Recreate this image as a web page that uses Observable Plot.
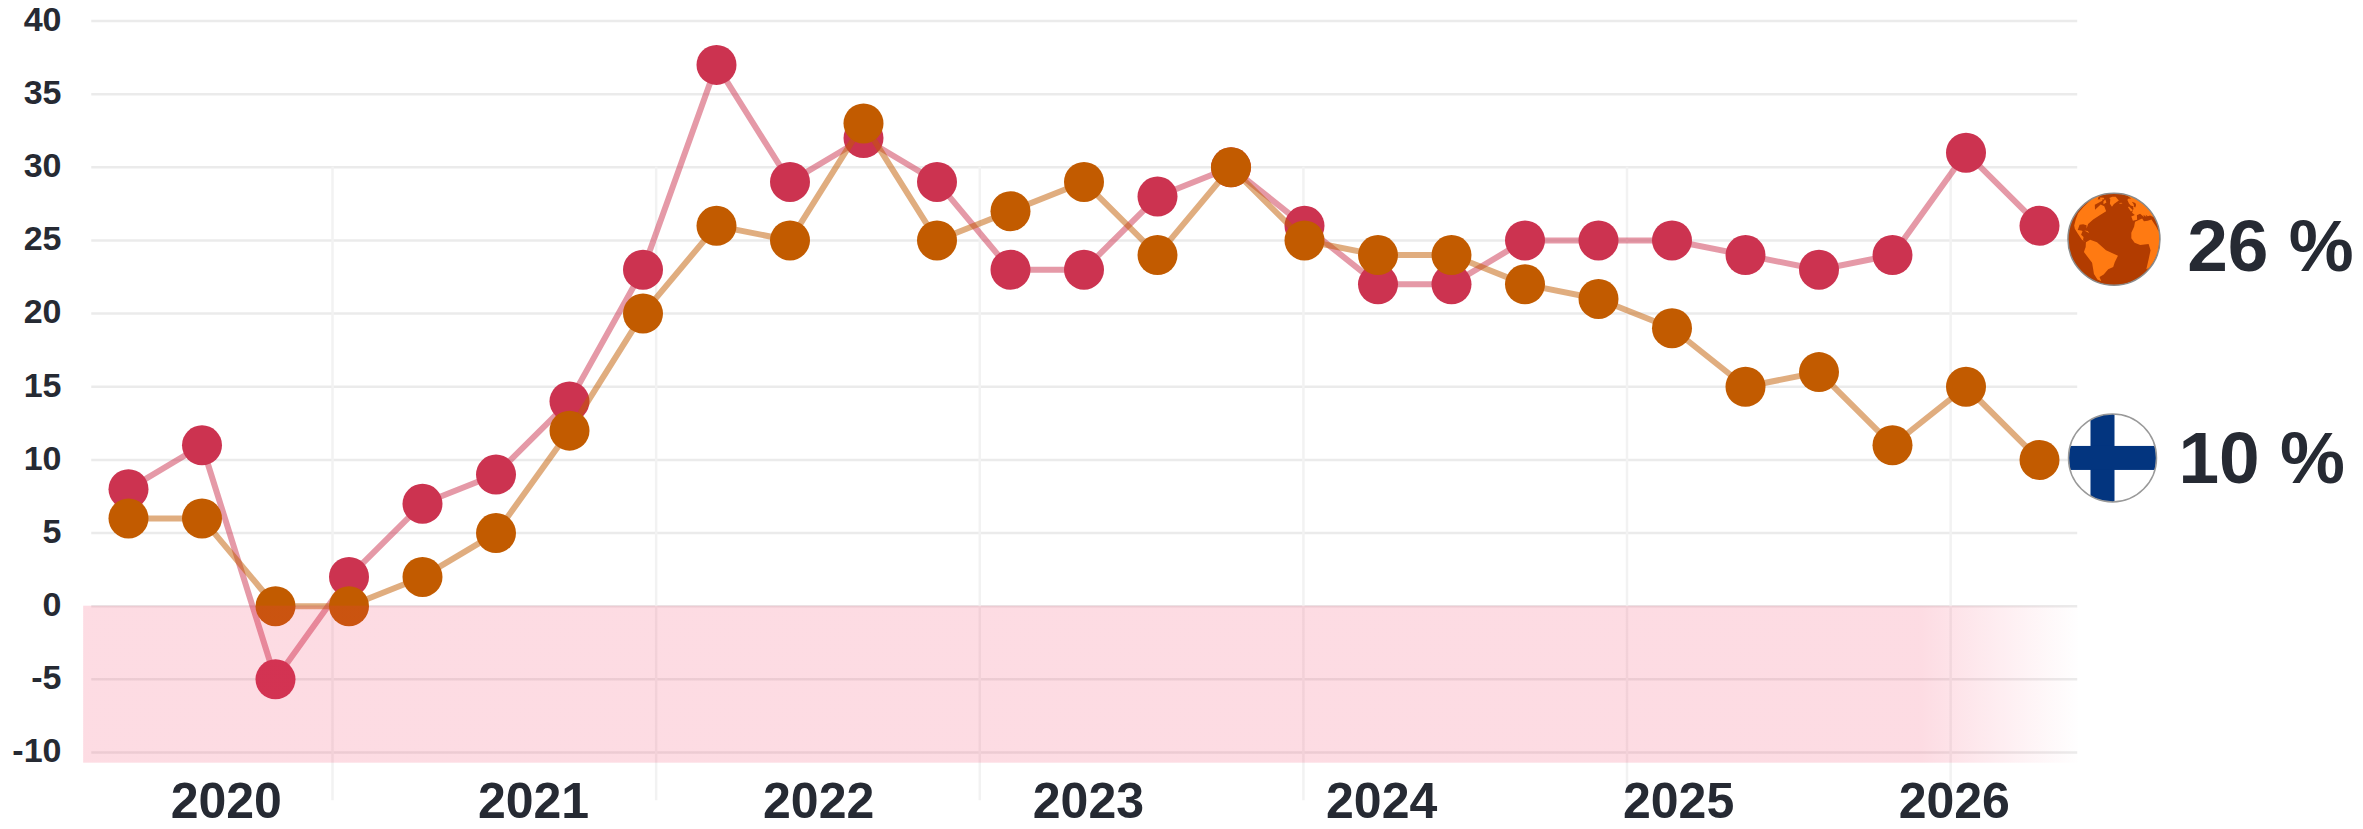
<!DOCTYPE html>
<html>
<head>
<meta charset="utf-8">
<script src="https://cdn.jsdelivr.net/npm/d3@7"></script>
<script src="https://cdn.jsdelivr.net/npm/@observablehq/plot@0.6"></script>
<style>html,body{margin:0;padding:0;background:#fff;overflow:hidden}svg{display:block}svg text{-webkit-text-stroke:0.6px #262a33}</style>
</head>
<body>
<div id="chart"></div>
<script>
// Data
const worldValues = [8,11,-5,2,7,9,14,23,37,29,32,29,23,23,28,30,26,22,22,25,25,25,24,23,24,31,26];
const finlandValues = [6,6,0,0,2,5,12,20,26,25,33,25,27,29,24,30,25,24,24,22,21,19,15,16,11,15,10];
const yTicks = [-10,-5,0,5,10,15,20,25,30,35,40];
const yearLabels = ["2020","2021","2022","2023","2024","2025","2026"];
const yearLabelIndex = [1.33,5.51,9.39,13.06,17.05,21.09,24.84];
const yearLines = [2.776,7.179,11.582,15.985,20.388,24.791];
const endLabels = ["26 %","10 %"];
const endLabelValues = [24.5,10.0];
const endLabelIndex = [28.01,27.89];
const iconIndex = [27.02,27.0];
const iconValues = [25.05,10.1];

const COLORS = {world:"#cc3350", finland:"#c25b00", text:"#262a33", grid:"#ebebeb", vgrid:"#f2f2f2"};

// Rough continent outlines (lon, lat) for the globe icon
const land = [
 [[-168,65],[-156,71],[-130,70],[-110,68],[-95,72],[-85,69],[-94,59],[-82,52],[-78,62],[-65,60],[-56,52],[-66,45],[-75,38],[-81,31],[-81,25],[-83,29],[-90,29],[-97,27],[-97,20],[-90,21],[-87,21],[-88,16],[-83,14],[-83,9],[-78,8],[-85,10],[-95,16],[-105,20],[-110,23],[-115,31],[-122,38],[-124,48],[-135,58],[-150,60],[-165,55],[-160,60]],
 [[-70,78],[-55,82],[-25,82],[-20,72],[-40,65],[-45,60],[-52,65],[-58,75]],
 [[-80,73],[-65,67],[-70,63],[-78,68]],
 [[-120,72],[-100,75],[-85,73],[-100,70]],
 [[-78,8],[-72,12],[-62,10],[-50,1],[-35,-6],[-39,-15],[-41,-22],[-48,-26],[-56,-36],[-65,-42],[-68,-54],[-74,-50],[-73,-37],[-70,-18],[-81,-5],[-78,2]],
 [[-6,35],[10,37],[11,33],[20,32],[32,31],[37,20],[43,12],[51,12],[40,-3],[40,-15],[33,-25],[27,-34],[18,-34],[12,-17],[13,-5],[9,4],[-5,5],[-13,9],[-17,15],[-16,22],[-10,29]],
 [[-9,37],[-9,43],[-1,44],[-4,48],[5,53],[9,57],[12,54],[22,57],[28,60],[22,64],[18,60],[12,56],[5,59],[6,63],[15,69],[28,71],[45,68],[70,72],[110,76],[140,72],[140,50],[120,30],[105,15],[90,22],[78,8],[70,22],[58,25],[48,30],[36,36],[27,37],[24,40],[22,37],[18,41],[16,38],[12,44],[3,43],[-1,37]],
 [[-5,50],[1,51],[-2,58],[-6,57]],
 [[-24,65],[-14,65],[-16,66.5],[-22,66.5]],
 [[-84,22],[-75,20],[-78,22.5]],
 [[44,-16],[50,-15],[47,-25],[44,-24]]
];

const indices = worldValues.map((_, i) => i);
const world = indices.map(i => ({i, v: worldValues[i]}));
const finland = indices.map(i => ({i, v: finlandValues[i]}));

function polygon(ring) {
  let g = {type:"Polygon", coordinates:[[...ring, ring[0]]]};
  if (d3.geoArea(g) > 2 * Math.PI) g = {type:"Polygon", coordinates:[[...ring, ring[0]].reverse()]};
  return g;
}

const defsMark = () => {
  const svg = d3.create("svg:g");
  const grad = svg.append("linearGradient").attr("id","fade");
  [[0,1],[0.92,1],[1,0]].forEach(([o,a]) =>
    grad.append("stop").attr("offset",o).attr("stop-color","rgb(243,50,92)").attr("stop-opacity",0.172*a));
  return svg.node();
};

const globeMark = (index, scales) => {
  const cx = scales.x(iconIndex[0]), cy = scales.y(iconValues[0]), r = 46;
  const projection = d3.geoOrthographic().rotate([40,-15]).scale(r).translate([cx,cy]).clipAngle(90);
  const path = d3.geoPath(projection);
  const g = d3.create("svg:g");
  g.append("circle").attr("cx",cx).attr("cy",cy).attr("r",r).attr("fill","#b23c00");
  land.forEach(ring => g.append("path").attr("d",path(polygon(ring))).attr("fill","#ff7a12"));
  g.append("circle").attr("cx",cx).attr("cy",cy).attr("r",r).attr("fill","none").attr("stroke","#8a8a8a").attr("stroke-width",1.5);
  return g.node();
};

const flagMark = (index, scales) => {
  const cx = scales.x(iconIndex[1]), cy = scales.y(iconValues[1]), r = 44;
  const g = d3.create("svg:g");
  const clip = g.append("clipPath").attr("id","flagclip");
  clip.append("circle").attr("cx",cx).attr("cy",cy).attr("r",r);
  const inner = g.append("g").attr("clip-path","url(#flagclip)");
  inner.append("rect").attr("x",cx-r).attr("y",cy-r).attr("width",2*r).attr("height",2*r).attr("fill","#fff");
  inner.append("rect").attr("x",cx-22).attr("y",cy-r).attr("width",24).attr("height",2*r).attr("fill","#03357f");
  inner.append("rect").attr("x",cx-r).attr("y",cy-12).attr("width",2*r).attr("height",24).attr("fill","#03357f");
  g.append("circle").attr("cx",cx).attr("cy",cy).attr("r",r).attr("fill","none").attr("stroke","#999").attr("stroke-width",1.5);
  return g.node();
};

const chart = Plot.plot({
  width: 2363,
  height: 829,
  marginLeft: 91,
  marginRight: 0,
  marginTop: 0,
  marginBottom: 55,
  style: {fontFamily:"'Liberation Sans', Arial, sans-serif", background:"#fff"},
  x: {type:"linear", domain:[0,26], range:[128,2039], axis:null},
  y: {type:"linear", domain:[-10,40], range:[752,20.5], axis:null},
  marks: [
    defsMark,
    Plot.ruleY(yTicks, {x1:-0.5, x2:26.52, stroke:COLORS.grid, strokeWidth:2.5}),
    Plot.ruleX(yearLines, {y1:30, y2:-13.3, stroke:COLORS.vgrid, strokeWidth:2.5}),
    Plot.line(world, {x:"i", y:"v", stroke:COLORS.world, strokeWidth:6, strokeOpacity:0.5}),
    Plot.dot(world, {x:"i", y:"v", r:20, fill:COLORS.world}),
    Plot.line(finland, {x:"i", y:"v", stroke:COLORS.finland, strokeWidth:6, strokeOpacity:0.5}),
    Plot.dot(finland, {x:"i", y:"v", r:20, fill:COLORS.finland}),
    Plot.rect([0], {x1:-0.61, x2:26.56, y1:0, y2:-10.73, fill:"url(#fade)"}),
    Plot.axisY(yTicks, {anchor:"left", tickSize:0, tickPadding:30, fontSize:34, fontWeight:700, fill:COLORS.text, label:null, dy:-1, tickFormat:d => String(d)}),
    Plot.axisX(yearLabelIndex, {anchor:"bottom", tickSize:0, tickPadding:8, fontSize:50, fontWeight:700, fill:COLORS.text, label:null, tickFormat:d => yearLabels[yearLabelIndex.indexOf(d)]}),
    globeMark,
    flagMark,
    Plot.text(endLabels, {x:(d,i) => endLabelIndex[i], y:(d,i) => endLabelValues[i], text:d => d, textAnchor:"start", fontSize:73, fontWeight:700, fill:COLORS.text})
  ]
});
document.getElementById("chart").appendChild(chart);
</script>
</body>
</html>
